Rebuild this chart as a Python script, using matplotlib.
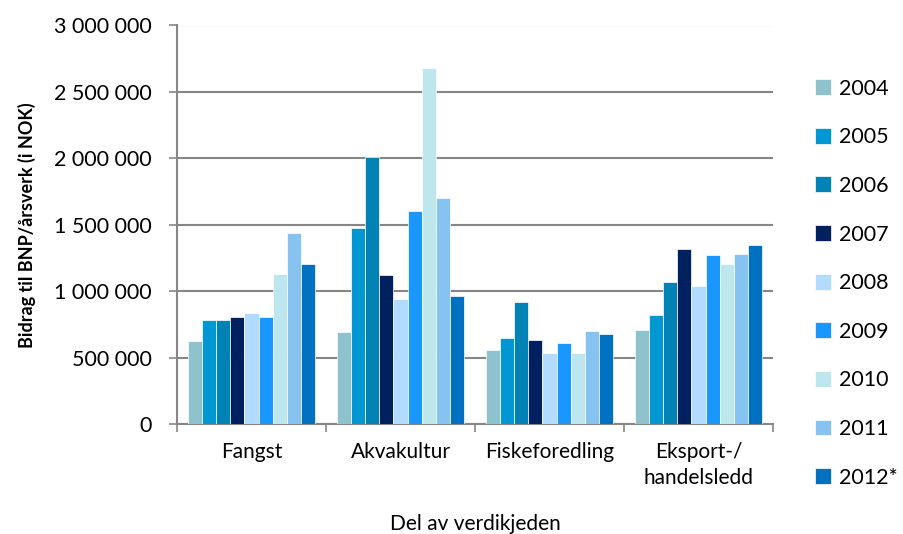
import numpy as np
import matplotlib.pyplot as plt
from matplotlib.ticker import FuncFormatter, FixedLocator

plt.rcParams["font.family"] = ["Lato", "DejaVu Sans"]

categories = ["Fangst", "Akvakultur", "Fiskeforedling", "Eksport-/\nhandelsledd"]
years = ["2004", "2005", "2006", "2007", "2008", "2009", "2010", "2011", "2012*"]

# Bidrag til BNP per årsverk, one list per year (Fangst, Akvakultur, Fiskeforedling, Eksport)
v2004 = [625000, 695000, 555000, 707000]
v2005 = [781000, 1473000, 645000, 822000]
v2006 = [783000, 2011000, 919000, 1068000]
v2007 = [806000, 1122000, 633000, 1316000]
v2008 = [833000, 939000, 535000, 1038000]
v2009 = [806000, 1604000, 610000, 1273000]
v2010 = [1132000, 2681000, 537000, 1203000]
v2011 = [1436000, 1702000, 703000, 1283000]
v2012 = [1202000, 964000, 675000, 1346000]
values = [v2004, v2005, v2006, v2007, v2008, v2009, v2010, v2011, v2012]

colors = ["#8EC3CD", "#0097D3", "#0082B4", "#002060", "#B3DBFF",
          "#1A96FF", "#BDE6EE", "#86C3F0", "#0070C0"]

fig = plt.figure(figsize=(9.04, 5.34), dpi=100)
ax = fig.add_axes([177 / 904, 110 / 534, 596 / 904, 398.5 / 534])

x = np.arange(len(categories))
n = len(years)
group_w = 0.857
bar_w = group_w / n

handles = []
for i, (yr, vals, col) in enumerate(zip(years, values, colors)):
    offs = -group_w / 2 + bar_w * (i + 0.5)
    b = ax.bar(x + offs, vals, width=bar_w, color=col, edgecolor="white",
               linewidth=0.5, label=yr, zorder=3)
    handles.append(b)

ax.set_xlim(-0.5, len(categories) - 0.5)
ax.set_ylim(0, 3000000)

ax.yaxis.set_major_locator(FixedLocator(np.arange(0, 3000001, 500000)))
ax.yaxis.set_major_formatter(FuncFormatter(lambda v, p: f"{int(v):,}".replace(",", " ")))
ax.grid(axis="y", color="#868686", linewidth=1.5, zorder=0)

# category ticks on group boundaries, labels centered
ax.set_xticks(np.arange(-0.5, len(categories), 1.0))
ax.set_xticklabels([])
ax.set_xticks(x, minor=True)
ax.set_xticklabels(categories, minor=True, fontsize=15, linespacing=1.35)
ax.tick_params(axis="x", which="minor", length=0, pad=13)
ax.tick_params(axis="x", which="major", length=6, width=1.2, color="#868686")
ax.tick_params(axis="y", length=6, width=1.2, color="#868686", labelsize=15.5, pad=12)

for s in ["top", "right"]:
    ax.spines[s].set_visible(False)
for s in ["left", "bottom"]:
    ax.spines[s].set_color("#868686")
    ax.spines[s].set_linewidth(1.5)

ax.set_ylabel("Bidrag til BNP/årsverk (i NOK)", fontsize=13, fontweight="bold", labelpad=13)
ax.set_xlabel("Del av verdikjeden", fontsize=15, labelpad=19)

fig.legend(handles=handles, labels=years, loc="upper left", bbox_to_anchor=(806 / 904, 1 - 70 / 534),
           frameon=False, fontsize=15.5, handlelength=0.75, handleheight=0.75,
           handletextpad=0.4, labelspacing=1.33, borderaxespad=0)

fig.savefig("out.png", dpi=100)
